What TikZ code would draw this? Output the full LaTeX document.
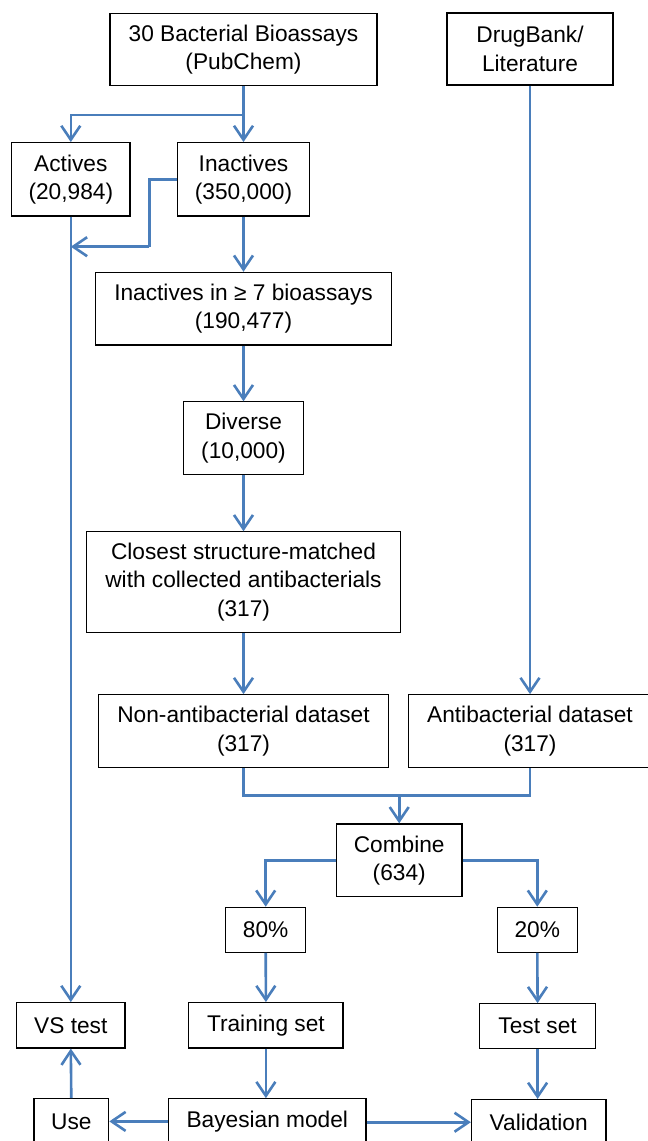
\documentclass[tikz,border=0pt]{standalone}
\usepackage{fontspec}
\setmainfont{Liberation Sans}
\usetikzlibrary{arrows.meta}
\definecolor{lineblue}{HTML}{4A7EBB}
\tikzset{
  box/.style={draw=black, line width=1.2pt, rectangle, inner sep=0pt, align=center,
    font=\fontsize{22.7}{28.3}\selectfont},
  arr/.style={draw=lineblue, line width=2.6pt, -{Straight Barb[length=14pt,width=19pt,line width=2.6pt]}},
  conn/.style={draw=lineblue, line width=2.6pt},
}
\begin{document}
\begin{tikzpicture}[x=1pt,y=-1pt]
\useasboundingbox (0,0) rectangle (648,1141);
\clip (0,0) rectangle (648,1141);
% nodes
\node[box, minimum width=267pt, minimum height=72.4pt] (bio) at (243.5,49.5) {30 Bacterial Bioassays\\(PubChem)};
\node[box, minimum width=166pt, minimum height=72pt] (drug) at (530,49) {DrugBank/\\Literature};
\node[box, minimum width=118.4pt, minimum height=73.3pt] (act) at (70.8,179.3) {Actives\\(20,984)};
\node[box, minimum width=131.3pt, minimum height=73.3pt] (inact) at (243.5,179.3) {Inactives\\(350,000)};
\node[box, minimum width=296.4pt, minimum height=72.7pt] (ge7) at (243.5,308.7) {Inactives in ≥ 7 bioassays\\(190,477)};
\node[box, minimum width=119.3pt, minimum height=72.3pt] (div) at (243.5,438) {Diverse\\(10,000)};
\node[box, minimum width=314.3pt, minimum height=100.3pt] (clo) at (243.5,582) {Closest structure-matched\\with collected antibacterials\\(317)};
\node[box, minimum width=290pt, minimum height=72.6pt] (non) at (243.5,731) {Non-antibacterial dataset\\(317)};
\node[box, minimum width=242.6pt, minimum height=72.6pt] (anti) at (530,731) {Antibacterial dataset\\(317)};
\node[box, minimum width=125.6pt, minimum height=72.7pt] (comb) at (399.2,860.3) {Combine\\(634)};
\node[box, minimum width=80.2pt, minimum height=45pt] (p80) at (265.7,929.8) {80\%};
\node[box, minimum width=80.3pt, minimum height=45pt] (p20) at (537.3,929.8) {20\%};
\node[box, minimum width=154.2pt, minimum height=45.3pt] (train) at (265.9,1025.3) {Training set};
\node[box, minimum width=115.7pt, minimum height=45pt] (test) at (537.6,1026.2) {Test set};
\node[box, minimum width=108.3pt, minimum height=45.3pt] (vs) at (70.8,1025.3) {VS test};
\node[box, minimum width=197.4pt, minimum height=45.3pt] (bayes) at (267.3,1121.4) {Bayesian model};
\node[box, minimum width=74.8pt, minimum height=45.3pt] (use) at (71.3,1121.4) {Use};
\node[box, minimum width=134.5pt, minimum height=45.3pt] (valid) at (538.7,1122.2) {Validation};
% coordinates
\coordinate (split) at (243.5,115);
\coordinate (bend1) at (149.3,179.3);
\coordinate (bend2) at (149.3,246.7);
\coordinate (inToAct) at (70.8,246.7);
\coordinate (merge) at (399.2,795.7);
% connectors
\draw[arr] (bio.south) -- (inact.north);
\draw[arr] (split) -| (act.north);
\draw[conn] (inact.west |- bend1) -- (bend1) -- (bend2);
\draw[arr] (bend2) -- (inToAct);
\draw[arr] (act.south) -- (vs.north);
\draw[arr] (inact.south) -- (ge7.north);
\draw[arr] (ge7.south) -- (div.north);
\draw[arr] (div.south) -- (clo.north);
\draw[arr] (clo.south) -- (non.north);
\draw[arr] (drug.south) -- (anti.north);
\draw[conn] (non.south) |- (merge) -| (anti.south);
\draw[arr] (merge) -- (comb.north);
\draw[arr] (comb.west) -| (p80.north);
\draw[arr] (comb.east) -| (p20.north);
\draw[arr] (p80.south) -- (train.north);
\draw[arr] (p20.south) -- (test.north);
\draw[arr] (train.south) -- (train.south |- bayes.north);
\draw[arr] (test.south) -- (test.south |- valid.north);
\draw[arr] (bayes.west) -- (use.east);
\draw[arr] (bayes.east |- valid.west) -- (valid.west);
\draw[arr] (use.north) -- (vs.south);
\end{tikzpicture}
\end{document}
